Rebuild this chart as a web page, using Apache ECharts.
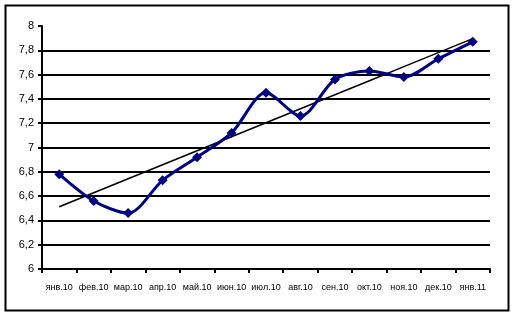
<!DOCTYPE html>
<html><head><meta charset="utf-8">
<script src="https://cdn.jsdelivr.net/npm/echarts@6/dist/echarts.min.js"></script>
<style>html,body{margin:0;padding:0;background:#fff}#c{width:518px;height:324px}</style>
</head><body><div id="c"></div>
<script>
const categories = ['янв.10','фев.10','мар.10','апр.10','май.10','июн.10','июл.10','авг.10','сен.10','окт.10','ноя.10','дек.10','янв.11'];
const values = [6.78, 6.56, 6.46, 6.73, 6.92, 7.12, 7.45, 7.26, 7.56, 7.63, 7.58, 7.73, 7.87];
const yTickLabels = ['6','6,2','6,4','6,6','6,8','7','7,2','7,4','7,6','7,8','8'];

// linear trend line (least squares), as in the original spreadsheet chart
const n = values.length;
const mx = (n - 1) / 2;
const my = values.reduce((a, b) => a + b, 0) / n;
let sxy = 0, sxx = 0;
values.forEach((v, i) => { sxy += (i - mx) * (v - my); sxx += (i - mx) * (i - mx); });
const slope = sxy / sxx;
const trend = values.map((v, i) => +(my + slope * (i - mx)).toFixed(4));

const gridColors = yTickLabels.map((t, i) => i === yTickLabels.length - 1 ? 'rgba(0,0,0,0)' : '#000');

const chart = echarts.init(document.getElementById('c'), null, {renderer: 'canvas'});
chart.setOption({
  animation: false,
  backgroundColor: '#fff',
  graphic: [{
    type: 'rect', shape: {x: 5.5, y: 5.5, width: 503, height: 305},
    style: {fill: 'none', stroke: '#000', lineWidth: 2}, z: 100
  }],
  grid: {left: 42, right: 28, top: 26, bottom: 55},
  xAxis: {
    type: 'category', data: categories, boundaryGap: true,
    axisLine: {lineStyle: {color: '#000', width: 2}},
    axisTick: {show: true, length: 4, lineStyle: {color: '#000', width: 2}},
    axisLabel: {interval: 0, fontFamily: 'Arial, Liberation Sans', fontSize: 9, color: '#000', margin: 14}
  },
  yAxis: {
    type: 'value', min: 6, max: 8, interval: 0.2,
    axisLine: {show: true, lineStyle: {color: '#000', width: 2}},
    axisTick: {show: true, length: 4, lineStyle: {color: '#000', width: 2}},
    splitLine: {show: true, lineStyle: {color: gridColors, width: 2}},
    axisLabel: {
      fontFamily: 'Arial, Liberation Sans', fontSize: 11, color: '#000', margin: 8,
      formatter: (v) => yTickLabels[Math.round((v - 6) / 0.2)]
    }
  },
  series: [
    {
      type: 'line', data: values, smooth: 0.3,
      symbol: 'diamond', symbolSize: 10,
      lineStyle: {color: '#000080', width: 3},
      itemStyle: {color: '#000080'}, z: 3
    },
    {
      type: 'line', data: trend, smooth: false, symbol: 'none',
      lineStyle: {color: '#000', width: 1.5}, z: 2
    }
  ]
});
</script></body></html>
